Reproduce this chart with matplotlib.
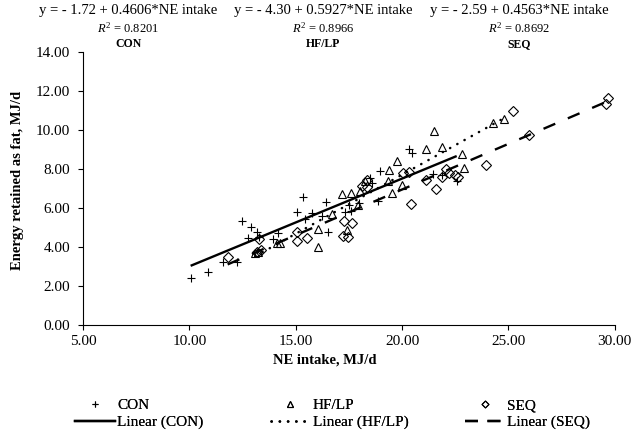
import numpy as np
import matplotlib
matplotlib.use("Agg")
import matplotlib.pyplot as plt
from matplotlib.lines import Line2D

# data (NE intake, energy retained as fat)
con_x = [10.06, 10.86, 11.57, 12.22, 12.49, 12.88, 13.17, 12.74, 13.27, 13.95,
         14.15, 15.36, 15.04, 15.75, 15.44, 16.41, 16.22, 16.53, 17.30, 17.59,
         17.52, 17.99, 20.35, 20.45, 18.96, 18.57, 18.88, 22.57, 18.49, 21.86,
         21.47]
con_y = [2.43, 2.74, 3.22, 3.25, 5.35, 5.01, 4.76, 4.45, 4.53, 4.40,
         4.74, 6.55, 5.78, 5.73, 5.44, 6.30, 5.60, 4.79, 5.80, 5.82,
         6.16, 6.25, 9.00, 8.80, 7.90, 7.27, 6.37, 7.36, 7.53, 7.70,
         7.75]

hf_x = [16.03, 17.16, 17.60, 16.69, 17.40, 16.06, 14.13, 13.24, 18.02, 17.94,
        18.26, 21.50, 21.13, 21.90, 19.74, 19.40, 19.35, 19.54, 19.98, 22.80,
        22.91, 24.26, 24.81, 13.10, 14.25]
hf_y = [4.02, 6.71, 6.76, 5.70, 4.88, 4.93, 4.22, 3.76, 6.88, 6.16,
        7.36, 9.94, 9.02, 9.15, 8.39, 7.96, 7.36, 6.76, 7.19, 8.78,
        8.04, 10.35, 10.56, 3.68, 4.20]

seq_x = [11.80, 13.29, 13.16, 15.04, 15.08, 15.51, 17.29, 17.63, 17.24, 17.47,
         18.10, 18.33, 18.37, 20.06, 20.34, 21.15, 21.60, 20.40, 21.90, 22.07,
         22.22, 22.49, 23.95, 25.20, 25.98, 22.64, 29.60, 29.70, 13.35]
seq_y = [3.47, 4.40, 3.76, 4.79, 4.33, 4.45, 5.31, 5.25, 4.57, 4.53,
         7.14, 7.44, 7.10, 7.79, 7.87, 7.41, 6.97, 6.21, 7.61, 7.99,
         7.79, 7.70, 8.21, 10.95, 9.75, 7.57, 11.35, 11.65, 3.85]

equations = ["y = - 1.72 + 0.4606*NE intake",
             "y = - 4.30 + 0.5927*NE intake",
             "y = - 2.59 + 0.4563*NE intake"]
r2_text = ["0.8201", "0.8966", "0.8692"]
groups = ["CON", "HF/LP", "SEQ"]

plt.rcParams['font.family'] = 'Liberation Serif'
plt.rcParams['mathtext.fontset'] = 'custom'
plt.rcParams['mathtext.rm'] = 'Liberation Serif'
plt.rcParams['mathtext.it'] = 'Liberation Serif:italic'

fig = plt.figure(figsize=(6.41, 4.33), dpi=100)
ax = fig.add_axes([0.1295, 0.2494, 0.8295, 0.6306])

ax.plot(con_x, con_y, linestyle='none', marker='+', ms=5.5, mew=0.8, color='black')
ax.plot(hf_x, hf_y, linestyle='none', marker='^', ms=6, mew=0.8,
        mfc='none', mec='black')
ax.plot(seq_x, seq_y, linestyle='none', marker='D', ms=4.7, mew=0.8,
        mfc='none', mec='black')

# excel style linear trendlines over each group's range
def trend(xs, ys):
    b, a = np.polyfit(xs, ys, 1)
    xx = np.array([min(xs), max(xs)])
    return xx, a + b * xx

xx, yy = trend(con_x, con_y)
ax.plot(xx, yy, color='black', lw=1.7, solid_capstyle='butt')
xx, yy = trend(hf_x, hf_y)
ax.plot(xx, yy, color='black', lw=1.8, dashes=(0.1, 3.2), dash_capstyle='round')
xx, yy = trend(seq_x, seq_y)
ax.plot(xx, yy, color='black', lw=1.7, dashes=(5.4, 5.8), dash_capstyle='butt')

ax.set_xlim(5, 30)
ax.set_ylim(0, 14)
ax.set_xticks(np.arange(5, 31, 5))
ax.set_yticks(np.arange(0, 15, 2))
ax.xaxis.set_major_formatter(matplotlib.ticker.FormatStrFormatter('%.2f'))
ax.yaxis.set_major_formatter(matplotlib.ticker.FormatStrFormatter('%.2f'))
ax.tick_params(direction='out', length=3.6, width=0.8, labelsize=11, colors='black')
ax.tick_params(axis='y', pad=5.5)
for s in ['top', 'right']:
    ax.spines[s].set_visible(False)
for s in ['left', 'bottom']:
    ax.spines[s].set_linewidth(0.8)

ax.set_xlabel("NE intake, MJ/d", fontsize=10.5, fontweight='bold')
ax.xaxis.set_label_coords(0.455, -0.105)
ax.set_ylabel("Energy retained as fat, MJ/d", fontsize=10.5, fontweight='bold')
ax.yaxis.set_label_coords(-0.111, 0.531)

# equations above the plot
xs_txt = [0.2, 0.504, 0.81]
for i in range(3):
    fig.text(xs_txt[i], 0.975, equations[i], ha='center', va='center', fontsize=10.5)
    fig.text(xs_txt[i], 0.935, r"$R^2$ = " + r2_text[i], ha='center', va='center',
             fontsize=9)
    fig.text(xs_txt[i], 0.899, groups[i], ha='center', va='center', fontsize=8.5,
             fontweight='bold')

# legend: three columns, marker on top row and trendline below
col_handles = [
    [Line2D([], [], ls='none', marker='+', ms=5, mew=0.8, color='black'),
     Line2D([], [], color='black', lw=1.7)],
    [Line2D([], [], ls='none', marker='^', ms=4.5, mew=0.8, mfc='none', mec='black'),
     Line2D([], [], color='black', lw=1.8, dashes=(0.1, 3.2), dash_capstyle='round')],
    [Line2D([], [], ls='none', marker='D', ms=3.5, mew=0.8, mfc='none', mec='black'),
     Line2D([], [], color='black', lw=1.7, dashes=(5.5, 4.0))],
]
col_x = [0.117, 0.422, 0.725]
for i in range(3):
    leg = fig.legend(col_handles[i], [groups[i], "Linear (" + groups[i] + ")"],
                     loc='upper left', bbox_to_anchor=(col_x[i], 0.079),
                     frameon=False, fontsize=11, handlelength=2.6,
                     handletextpad=0.15, labelspacing=0.2, borderpad=0,
                     borderaxespad=0)
    fig.add_artist(leg)

fig.savefig("out.png", dpi=100)
